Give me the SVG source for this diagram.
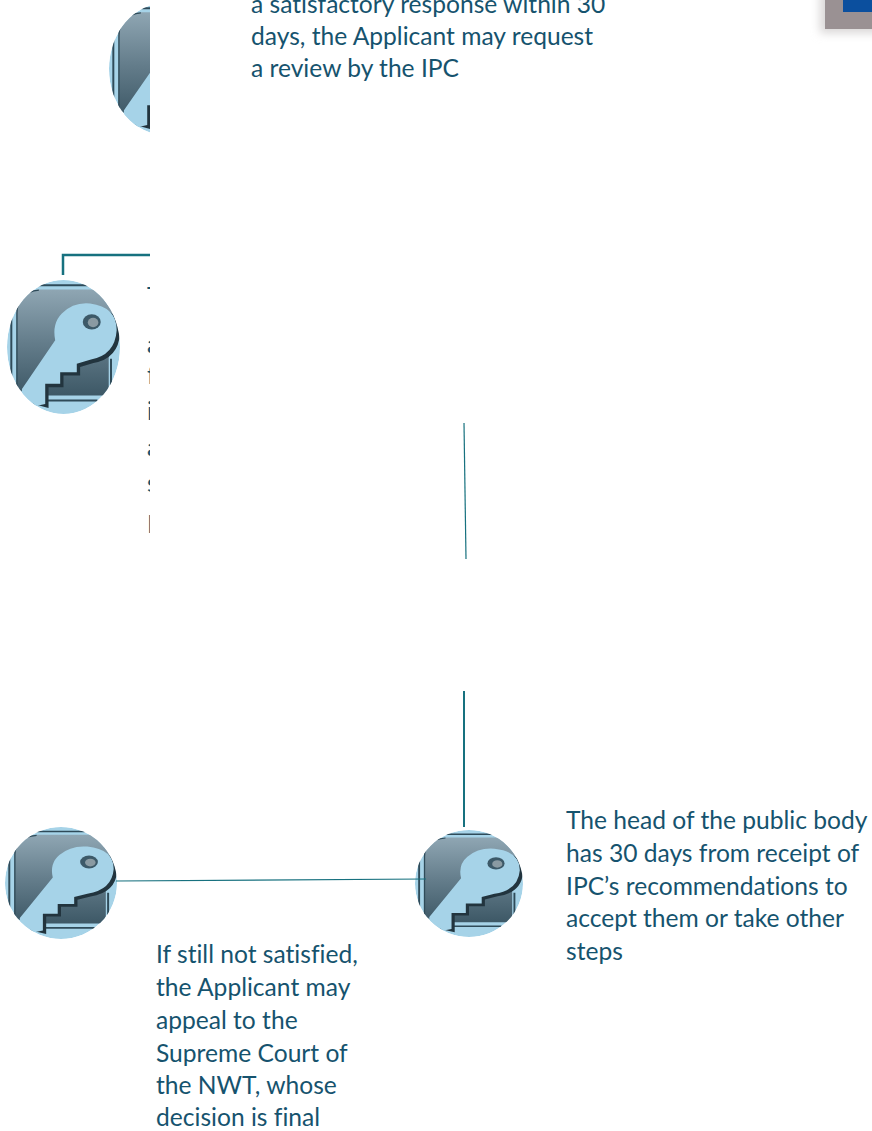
<svg xmlns="http://www.w3.org/2000/svg" width="872" height="1131" viewBox="0 0 872 1131">
<style>
text{font-family:"Lato","Liberation Sans",sans-serif;font-size:24.6px;fill:#16536e;font-variant-ligatures:none}
.c{fill:none;stroke:#17717f}
</style>
<defs>
<linearGradient id="g" x1="0" y1="0" x2="0" y2="1"><stop offset="0" stop-color="#8fa6b3"/><stop offset=".5" stop-color="#647d8b"/><stop offset="1" stop-color="#3d5866"/></linearGradient>
<clipPath id="ec"><ellipse cx="170" cy="200" rx="170" ry="200"/></clipPath>
<clipPath id="c150"><rect x="0" y="0" width="150" height="1131"/></clipPath>
<filter id="soft" x="-30%" y="-30%" width="160%" height="160%"><feGaussianBlur stdDeviation="5"/></filter>
<symbol id="key" viewBox="0 0 340 400" preserveAspectRatio="none">
<g clip-path="url(#ec)">
<ellipse cx="170" cy="200" rx="170" ry="200" fill="#a6d3e8"/>
<path d="M28 320V100Q28 34 96 28H270L322 100V210H306V345H120L60 345Z" fill="url(#g)"/>
<path d="M13 310V100Q13 20 90 16H245" fill="none" stroke="#2f4b59" stroke-width="6"/>
<path d="M30 320V100Q30 36 96 30" fill="none" stroke="#2f4b59" stroke-width="4"/>
<path d="M110 360H272M313 235V345" fill="none" stroke="#2f4b59" stroke-width="6"/>
<path d="M60 338L155 190Q145 140 175 110Q210 75 260 80Q342 90 340 160Q335 235 260 248L220 260V285H170V320H125V382L80 370Z" fill="#22343e"/>
<path d="M45 325L145 180Q135 130 165 100Q200 65 250 70Q330 80 330 150Q325 225 250 238L210 250V275H160V310H115V370L70 380L45 350Z" fill="#a6d3e8"/>
<ellipse cx="255" cy="125" rx="27" ry="23" fill="#3c5968"/>
<ellipse cx="259" cy="127" rx="16" ry="14" fill="#8a9aa2"/>
</g>
</symbol>
</defs>
<rect width="872" height="1131" fill="#fff"/>
<g id="icon-top" clip-path="url(#c150)"><use href="#key" x="109" y="3" width="113" height="132"/></g>
<g id="icon-left"><use href="#key" x="7" y="280" width="113" height="134"/></g>
<g id="icon-bottom-left"><use href="#key" x="5" y="827" width="112" height="112"/></g>
<g id="icon-bottom-center"><use href="#key" x="415" y="830" width="108" height="107"/></g>
<g id="connectors">
<path class="c" stroke-width="2.5" d="M63 275V255H150"/>
<path class="c" stroke-width="1.2" d="M464 423L466 559"/>
<path class="c" stroke-width="2" d="M464 691V827"/>
<path class="c" stroke-width="1.2" d="M116 881L426 879"/>
</g>
<g id="text-top">
<text x="251" y="13">a satisfactory response within 30</text>
<text x="251" y="45">days, the Applicant may request</text>
<text x="251" y="77">a review by the IPC</text>
</g>
<g id="text-clipped" clip-path="url(#c150)">
<text x="147" y="305">T</text><text x="147" y="353">a</text><text x="147" y="384">f</text><text x="147" y="420">i</text><text x="147" y="456">a</text><text x="147" y="492">s</text><text x="147" y="533">I</text>
</g>
<g id="text-head">
<text x="566" y="829">The head of the public body</text>
<text x="566" y="862">has 30 days from receipt of</text>
<text x="566" y="895">IPC’s recommendations to</text>
<text x="566" y="927">accept them or take other</text>
<text x="566" y="960">steps</text>
</g>
<g id="text-appeal">
<text x="156" y="963">If still not satisfied,</text>
<text x="156" y="996">the Applicant may</text>
<text x="156" y="1029">appeal to the</text>
<text x="156" y="1062">Supreme Court of</text>
<text x="156" y="1094">the NWT, whose</text>
<text x="156" y="1126">decision is final</text>
</g>
<g id="corner-image">
<rect x="820" y="-10" width="70" height="43" fill="#d8d6d6" filter="url(#soft)"/>
<rect x="825" y="-5" width="60" height="34" fill="#9a9193"/>
<rect x="843" y="-5" width="40" height="17" fill="#0b4f9e"/>
</g>
</svg>
